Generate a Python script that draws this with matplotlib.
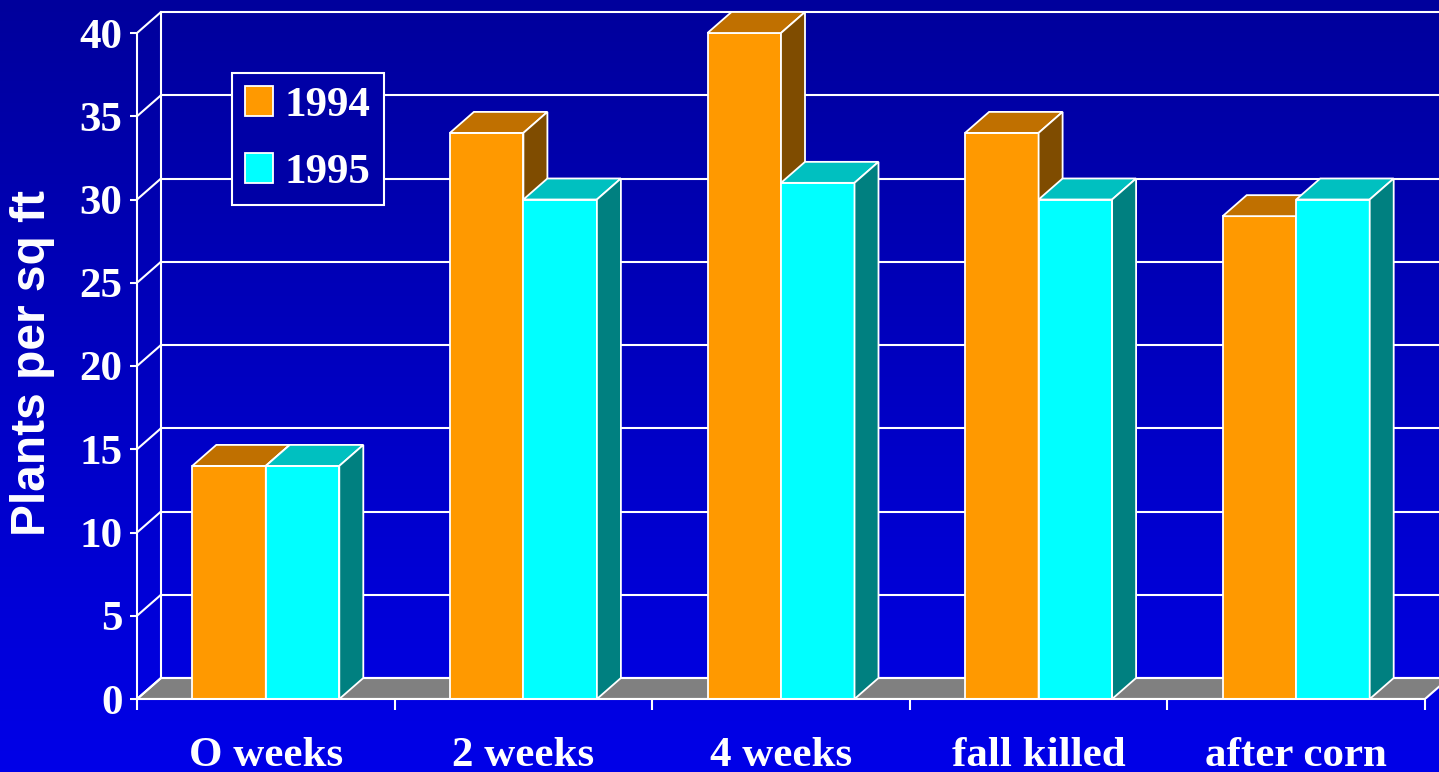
import numpy as np
import matplotlib.pyplot as plt
from matplotlib.patches import Polygon, Patch
from matplotlib.colors import LinearSegmentedColormap

categories = ["O weeks", "2 weeks", "4 weeks", "fall killed", "after corn"]
series = ["1994", "1995"]
plants_1994 = [14, 34, 40, 34, 29]
plants_1995 = [14, 30, 31, 30, 30]
y_ticks = [0, 5, 10, 15, 20, 25, 30, 35, 40]

front_colors = ["#FF9900", "#00FFFF"]
top_colors = ["#C07000", "#00C0C0"]
side_colors = ["#7F4C00", "#008080"]

serif = "Liberation Serif"
sans = "Liberation Sans"

W, H = 1439, 772
fig = plt.figure(figsize=(W / 100, H / 100), dpi=100)

# blue gradient backdrop
bg = fig.add_axes([0, 0, 1, 1])
grad = np.linspace(0, 1, 256).reshape(-1, 1)
cmap = LinearSegmentedColormap.from_list("backdrop", ["#00009C", "#0000E8"])
bg.imshow(grad, cmap=cmap, aspect="auto", extent=[0, 1, 0, 1], origin="upper")
bg.set_axis_off()

# plot area: pixels per category / per unit on the front plane
cat_px, val_px = 257.6, 16.65
left_px, bottom_px = 137, 73
ax = fig.add_axes([left_px / W, bottom_px / H, (W - left_px) / W, (H - bottom_px) / H])
xmax = (W - left_px) / cat_px
ax.set_xlim(0, xmax)
ax.set_ylim(0, (H - bottom_px) / val_px)
ax.patch.set_alpha(0)

# depth offset of the 3D look
dx = 24 / cat_px
dy = 21 / val_px
n = len(categories)
ymax = y_ticks[-1]

# floor
ax.add_patch(Polygon([(0, 0), (n, 0), (n + dx, dy), (dx, dy)],
                     closed=True, fc="#808080", ec="white", lw=1.5, zorder=1))

# back wall grid and the diagonals from the front axis
for v in y_ticks:
    ax.plot([dx, xmax], [v + dy, v + dy], color="white", lw=1.5, zorder=1)
    ax.plot([0, dx], [v, v + dy], color="white", lw=1.5, zorder=1,
            solid_capstyle="butt")
ax.plot([dx, dx], [dy, ymax + dy], color="white", lw=1.5, zorder=1)

# bars: front face via ax.bar, plus top and side faces
bw = 73.5 / cat_px
z = 3
for i in range(n):
    for s, vals in enumerate([plants_1994, plants_1995]):
        x = i + 0.5 - bw + s * bw
        h = vals[i]
        ax.bar(x, h, width=bw, align="edge", color=front_colors[s],
               edgecolor="white", lw=1.3, zorder=z)
        ax.add_patch(Polygon([(x, h), (x + bw, h), (x + bw + dx, h + dy), (x + dx, h + dy)],
                             closed=True, fc=top_colors[s], ec="white", lw=1.3,
                             joinstyle="miter", zorder=z))
        ax.add_patch(Polygon([(x + bw, 0), (x + bw + dx, dy), (x + bw + dx, h + dy), (x + bw, h)],
                             closed=True, fc=side_colors[s], ec="white", lw=1.3,
                             joinstyle="miter", zorder=z))
        z += 0.1

# axes
for side in ["top", "right"]:
    ax.spines[side].set_visible(False)
ax.spines["left"].set_bounds(0, ymax)
ax.spines["bottom"].set_bounds(0, n)
for side in ["left", "bottom"]:
    ax.spines[side].set_color("white")
    ax.spines[side].set_linewidth(1.5)
    ax.spines[side].set_zorder(10)

ax.set_yticks(y_ticks)
ax.set_yticklabels([str(v) for v in y_ticks], fontfamily=serif,
                   fontweight="bold", fontsize=31, color="white")
ax.tick_params(axis="y", length=5, width=1.5, color="white", pad=5.5)

ax.set_xticks(range(n + 1))
ax.set_xticklabels([""] * (n + 1))
ax.set_xticks(np.arange(n) + 0.5, minor=True)
ax.set_xticklabels(categories, minor=True, fontfamily=serif,
                   fontweight="bold", fontsize=31, color="white")
ax.tick_params(axis="x", which="major", length=8, width=1.5, color="white")
ax.tick_params(axis="x", which="minor", length=0, pad=27)

fig.text(33 / W, 1 - 363 / H, "Plants per sq ft", rotation=90,
         ha="center", va="center", color="white", fontfamily=sans,
         fontweight="bold", fontsize=34.5)

handles = [Patch(facecolor=c, edgecolor="white", lw=1.3) for c in front_colors]
leg = ax.legend(handles, series, loc="upper left",
                bbox_to_anchor=(232 / W, 1 - 73 / H), bbox_transform=fig.transFigure,
                prop={"family": serif, "weight": "bold", "size": 31},
                handlelength=0.65, handleheight=0.7, handletextpad=0.28,
                labelspacing=0.64, borderpad=0.3, borderaxespad=0,
                fancybox=False, framealpha=1, facecolor="#0000A6",
                edgecolor="white", labelcolor="white")
leg.get_frame().set_linewidth(1.5)
leg.set_zorder(20)

fig.savefig("out.png", dpi=100)
